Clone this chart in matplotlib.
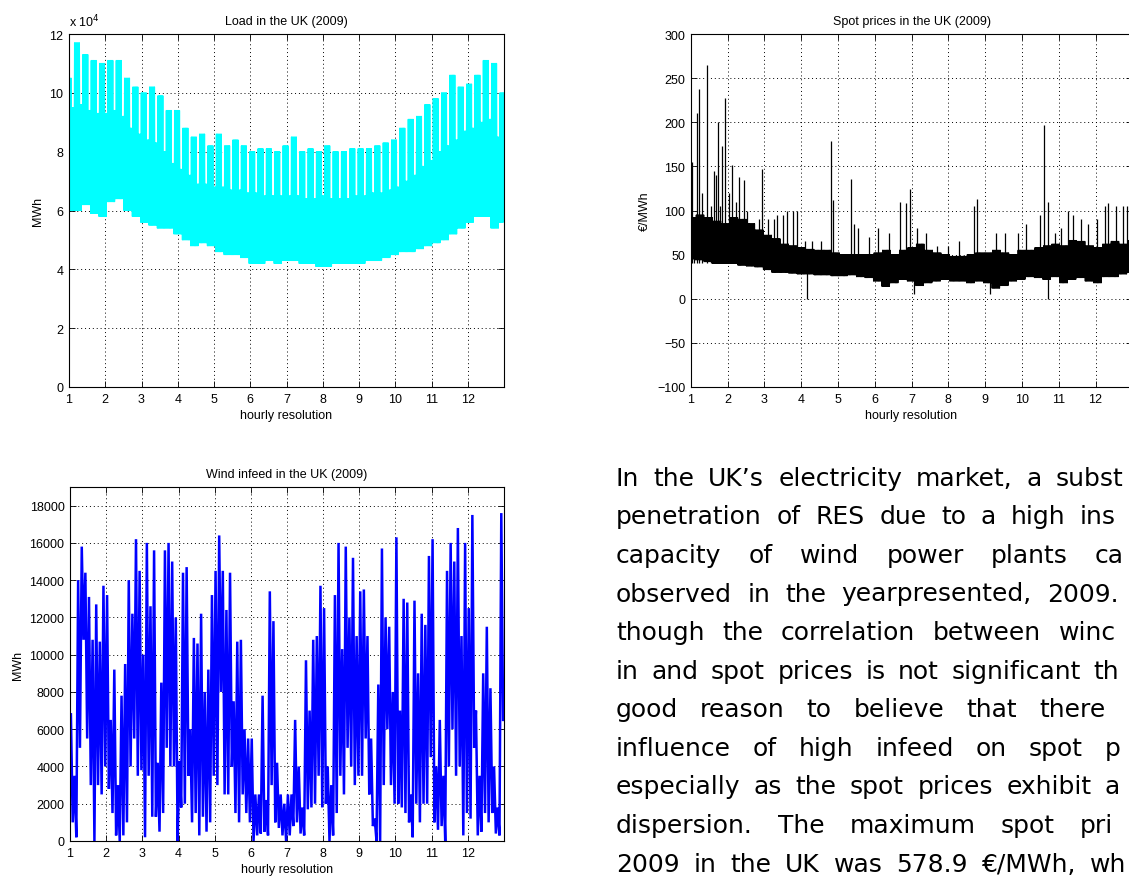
import numpy as np
import matplotlib
matplotlib.use("Agg")
import matplotlib.pyplot as plt

# ── Data ──────────────────────────────────────────────────────────────────────
# weeks run Mon-Sun, 1 Jan 2009 was a Thursday -> 53 (partial) weeks
MONTHS = list(range(1, 13))

# Load, MWh: weekday daily peak, weekend daily peak, weekly night low
load_weekday_peak = [
    105000, 117000, 113000, 111000, 110000,            # Jan
    111000, 111000, 105000, 102000,                    # Feb
    100000, 102000, 99000, 94000, 94000,               # Mar
    88000, 85000, 86000, 82000,                        # Apr
    86000, 82000, 84000, 82000,                        # May
    80000, 81000, 81000, 80000, 82000,                 # Jun
    85000, 80000, 81000, 80000,                        # Jul
    82000, 80000, 80000, 81000, 81000,                 # Aug
    81000, 82000, 83000, 84000,                        # Sep
    88000, 91000, 92000, 96000,                        # Oct
    98000, 100000, 106000, 102000, 103000,             # Nov
    106000, 111000, 110000, 100000,                    # Dec
]
load_weekend_peak = [
    95000, 96000, 94000, 93000, 93000,
    94000, 92000, 88000, 86000,
    84000, 83000, 80000, 76000, 74000,
    72000, 69000, 69000, 68000,
    68000, 67000, 67000, 66000,
    66000, 65000, 65000, 65000, 65000,
    65000, 64000, 64000, 65000,
    64000, 64000, 64000, 65000, 65000,
    66000, 66000, 67000, 68000,
    70000, 72000, 75000, 77000,
    80000, 82000, 84000, 87000, 88000,
    90000, 91000, 85000, 84000,
]
load_week_low = [
    60000, 60000, 62000, 59000, 58000,
    63000, 64000, 60000, 58000,
    56000, 55000, 54000, 54000, 52000,
    50000, 48000, 49000, 48000,
    46000, 45000, 45000, 44000,
    42000, 42000, 43000, 42000, 43000,
    43000, 42000, 42000, 41000,
    41000, 42000, 42000, 42000, 42000,
    43000, 43000, 44000, 45000,
    46000, 46000, 47000, 48000,
    49000, 50000, 52000, 54000, 56000,
    58000, 58000, 54000, 56000,
]

# Spot prices, EUR/MWh: weekly band (daily high / low) plus isolated spikes
spot_week_high = [
    92, 95, 92, 88, 85,
    92, 90, 85, 78,
    72, 68, 62, 60, 58,
    56, 55, 55, 52,
    50, 50, 50, 50,
    52, 55, 50, 55, 58,
    62, 55, 52, 50,
    48, 48, 50, 52, 52,
    55, 52, 50, 55,
    55, 58, 60, 62,
    60, 66, 65, 60, 58,
    62, 65, 62, 66,
]
spot_week_low = [
    45, 44, 42, 40, 40,
    40, 38, 37, 36,
    33, 30, 30, 29, 28,
    28, 27, 27, 26,
    26, 27, 25, 24,
    20, 14, 18, 22, 20,
    15, 18, 20, 22,
    20, 20, 18, 20, 18,
    12, 15, 20, 22,
    25, 24, 22, 25,
    18, 22, 24, 20, 18,
    25, 25, 28, 30,
]
spike_pos = [1.03, 1.10, 1.16, 1.22, 1.30, 1.45, 1.55, 1.62, 1.68, 1.73,
             1.80, 1.85, 1.93, 2.05, 2.13, 2.22, 2.31, 2.45, 2.52, 2.70,
             2.85, 2.95, 3.10, 3.25, 3.35, 3.50, 3.62, 3.78, 3.90, 4.10,
             4.30, 4.55, 4.80, 4.88, 5.35, 5.45, 5.55, 5.85, 6.10, 6.40,
             6.68, 6.85, 6.96, 7.15, 7.40, 7.70, 8.00, 8.30, 8.70, 8.77,
             9.30, 9.55, 9.90, 10.10, 10.50, 10.61, 10.70, 10.90, 11.05, 11.25,
             11.40, 11.60, 11.80, 12.05, 12.25, 12.35, 12.55, 12.75, 12.85]
spike_val = [155, 92, 210, 238, 120, 265, 105, 145, 140, 200,
             105, 173, 228, 120, 152, 110, 138, 135, 100, 85,
             90, 147, 90, 90, 95, 95, 100, 100, 100, 65,
             65, 65, 179, 112, 136, 85, 80, 70, 80, 75,
             110, 108, 124, 80, 75, 60, 60, 65, 105, 113,
             75, 75, 75, 85, 95, 197, 110, 75, 80, 100,
             95, 90, 85, 90, 105, 108, 105, 105, 105]
dip_pos = [4.15, 7.08, 9.13, 10.72]
dip_val = [0, 5, 5, 0]

# Wind infeed, MWh: successive local peaks / troughs, ten per month
wind_peaks = [
    6800, 3500, 14000, 15800, 14400, 13100, 10800, 12700, 10700, 13700,   # Jan
    13200, 6500, 9200, 3000, 7800, 9500, 14000, 12200, 16200, 14500,      # Feb
    10000, 16000, 12600, 15600, 4200, 8500, 15600, 16000, 15000, 12000,   # Mar
    4300, 14400, 14700, 6000, 10900, 10600, 12200, 8000, 9200, 13200,     # Apr
    14500, 16400, 14500, 12400, 14400, 7500, 10700, 10800, 6000, 5500,    # May
    5500, 2500, 2500, 7800, 2200, 13400, 11800, 4200, 2500, 2000,         # Jun
    2500, 2500, 6500, 4000, 1800, 9700, 7000, 10800, 11000, 13700,        # Jul
    12500, 4000, 3000, 13200, 16000, 10300, 15800, 12000, 15200, 11000,   # Aug
    13400, 13500, 11000, 5500, 1200, 8400, 15700, 12000, 11500, 8000,     # Sep
    16300, 7000, 13000, 12800, 2500, 12900, 9000, 12200, 11600, 15300,    # Oct
    16200, 4000, 6500, 3500, 14500, 16000, 15000, 16800, 11000, 16000,    # Nov
    12500, 17500, 7000, 3500, 9000, 11500, 8200, 4000, 1800, 17600,       # Dec
]
wind_troughs = [
    1000, 200, 5000, 10800, 5500, 3000, 0, 3000, 2500, 4000,
    2800, 1500, 300, 0, 300, 1000, 4000, 5500, 3500, 3800,
    200, 3500, 1300, 1300, 500, 1500, 5000, 4000, 4000, 0,
    1800, 2000, 3500, 1000, 1500, 300, 1300, 500, 1000, 3500,
    3000, 8000, 2500, 2500, 4000, 1500, 1000, 2500, 1500, 1000,
    0, 300, 400, 500, 300, 3000, 1000, 700, 300, 0,
    300, 800, 1000, 400, 300, 1700, 1800, 2000, 3500, 1800,
    2000, 0, 300, 1500, 3500, 2500, 5000, 4000, 3000, 3500,
    3500, 5500, 2500, 800, 0, 0, 3000, 6000, 3000, 2000,
    2000, 1800, 1500, 1000, 200, 2000, 1000, 2000, 2000, 4500,
    1000, 600, 800, 0, 4000, 6000, 3500, 4000, 300, 1500,
    1200, 5000, 300, 500, 1500, 1000, 1500, 400, 300, 6500,
]

para_lines = [
    "In the UK\u2019s electricity market, a subst",
    "penetration of RES due to a high ins",
    "capacity of wind power plants ca",
    "observed in the yearpresented, 2009.",
    "though the correlation between winc",
    "in and spot prices is not significant th",
    "good reason to believe that there",
    "influence of high infeed on spot p",
    "especially as the spot prices exhibit a",
    "dispersion. The maximum spot pri",
    "2009 in the UK was 578.9 \u20ac/MWh, wh",
]
para_last_x = [1056, 1080, 1095, 1047, 1059, 1093, 1039, 1105, 1105, 1080, 1090]

# ── Helpers ───────────────────────────────────────────────────────────────────
W, H = 1129, 878
plt.rcParams["font.family"] = ["Liberation Sans", "DejaVu Sans"]


def daily_zigzag(week_low, week_day_high, week_end_high=None):
    """Two points a day (night low, day high) built from per-week readings."""
    days = np.arange(365)
    wk = (days + 3) // 7
    weekend = (days + 3) % 7 >= 5
    hi = np.take(week_day_high, wk)
    if week_end_high is not None:
        hi = np.where(weekend, np.take(week_end_high, wk), hi)
    lo = np.take(week_low, wk)
    x = np.column_stack([1 + 12 * (days + 0.2) / 365,
                         1 + 12 * (days + 0.7) / 365]).ravel()
    y = np.column_stack([lo, hi]).ravel()
    return x, y


def matlab_axes(ax, title, ylabel):
    ax.set_xlim(1, 13)
    ax.set_xticks(MONTHS)
    ax.set_title(title, fontsize=9, pad=7)
    ax.set_xlabel("hourly resolution", fontsize=9, labelpad=3)
    ax.set_ylabel(ylabel, fontsize=9, labelpad=4)
    ax.tick_params(direction="in", length=4, width=0.6, top=True, right=True,
                   labelsize=9, pad=4)
    ax.grid(True, color="black", linestyle=(0, (1, 3)), linewidth=0.7)
    ax.set_axisbelow(True)
    for s in ax.spines.values():
        s.set_linewidth(0.8)


def box(left, top, width, height):
    return [left / W, 1 - (top + height) / H, width / W, height / H]


fig = plt.figure(figsize=(W / 100, H / 100), dpi=100, facecolor="white")

# ── Load ──────────────────────────────────────────────────────────────────────
ax_load = fig.add_axes(box(69, 35, 435, 353))
x, y = daily_zigzag(load_week_low, load_weekday_peak, load_weekend_peak)
ax_load.plot(x, y, color="cyan", linewidth=0.9)
ax_load.set_ylim(0, 120000)
ax_load.set_yticks(np.arange(0, 120001, 20000))
ax_load.set_yticklabels([str(v) for v in range(0, 13, 2)])
ax_load.text(0.0, 1.012, r"x 10$^{4}$", transform=ax_load.transAxes,
             fontsize=9, ha="left", va="bottom")
matlab_axes(ax_load, "Load in the UK (2009)", "MWh")

# ── Spot prices (runs past the right edge of the page) ───────────────────────
ax_spot = fig.add_axes(box(690.7, 35, 441.6, 353))
x, y = daily_zigzag(spot_week_low, spot_week_high)
ax_spot.plot(x, y, color="black", linewidth=0.9)
ax_spot.vlines(spike_pos, 40, spike_val, color="black", linewidth=0.9)
ax_spot.vlines(dip_pos, dip_val, 30, color="black", linewidth=0.9)
ax_spot.set_ylim(-100, 300)
ax_spot.set_yticks(np.arange(-100, 301, 50))
matlab_axes(ax_spot, "Spot prices in the UK (2009)", "\u20ac/MWh")

# ── Wind infeed ───────────────────────────────────────────────────────────────
ax_wind = fig.add_axes(box(70, 488, 434, 354))
wy = np.column_stack([wind_peaks, wind_troughs]).ravel()
wx = 1 + 12 * (np.arange(len(wy)) + 0.5) / len(wy)
ax_wind.plot(wx, wy, color="blue", linewidth=1.8, solid_joinstyle="miter")
ax_wind.set_ylim(0, 19000)
ax_wind.set_yticks(np.arange(0, 18001, 2000))
matlab_axes(ax_wind, "Wind infeed in the UK (2009)", "MWh")

# ── Justified paragraph, cut off by the page edge ─────────────────────────────
renderer = fig.canvas.get_renderer()
x0, base0, step = 616, 485.7, 38.6
for i, (line, x_last) in enumerate(zip(para_lines, para_last_x)):
    words = line.split(" ")
    yb = 1 - (base0 + i * step) / H
    arts = [fig.text(0, yb, w, fontsize=18, family="DejaVu Sans",
                     va="baseline", ha="left") for w in words]
    widths = [a.get_window_extent(renderer).width for a in arts]
    gap = (x_last - x0 - sum(widths[:-1])) / max(len(words) - 1, 1)
    xpos = x0
    for a, wdt in zip(arts, widths):
        a.set_x(xpos / W)
        xpos += wdt + gap

fig.savefig("out.png", dpi=100, facecolor="white")
